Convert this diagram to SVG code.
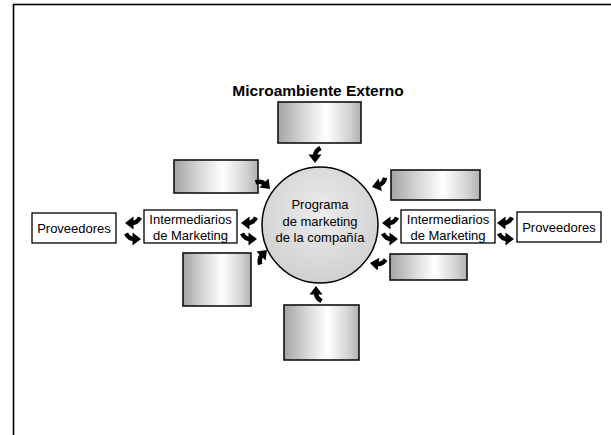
<svg xmlns="http://www.w3.org/2000/svg" xmlns:xlink="http://www.w3.org/1999/xlink" width="611" height="435" viewBox="0 0 611 435">
<style>
.t{font-family:"Liberation Sans",Arial,sans-serif;font-size:13px;fill:#000;text-anchor:middle}
.title{font-family:"Liberation Sans",Arial,sans-serif;font-size:15.5px;font-weight:bold;fill:#000;text-anchor:middle}
.wb{fill:#fff;stroke:#000;stroke-width:1.3}
.gb{fill:url(#gbox);stroke:#111;stroke-width:1.6}
</style>
<defs>
<linearGradient id="gbox" x1="0" y1="0" x2="1" y2="0">
<stop offset="0" stop-color="#a4a4a4"/>
<stop offset="0.3" stop-color="#d6d6d6"/>
<stop offset="0.58" stop-color="#ffffff"/>
<stop offset="0.85" stop-color="#d4d4d4"/>
<stop offset="1" stop-color="#b0b0b0"/>
</linearGradient>
<radialGradient id="gcirc" cx="0.5" cy="0.4" r="0.6">
<stop offset="0" stop-color="#ececec"/>
<stop offset="1" stop-color="#d0d0d0"/>
</radialGradient>
<g id="arr">
<polygon points="0,0 8.5,-6.5 8.5,6.5" fill="#000"/>
<path d="M7,0 Q12,0 15,-5.5" fill="none" stroke="#000" stroke-width="4.5"/>
</g>
</defs>
<rect x="13.5" y="4.5" width="700" height="500" fill="#fff" stroke="#000" stroke-width="1.6"/>
<text class="title" x="318" y="96">Microambiente Externo</text>

<g id="circle">
<circle cx="320" cy="225" r="58" fill="url(#gcirc)" stroke="#000" stroke-width="1.5"/>
<text class="t" x="320" y="209">Programa</text>
<text class="t" x="320" y="225.5">de marketing</text>
<text class="t" x="320" y="242">de la compañía</text>
</g>
<g id="box-top"><rect class="gb" x="278" y="102" width="83" height="41"/></g>
<g id="box-ul"><rect class="gb" x="174" y="160" width="84" height="33"/></g>
<g id="box-ur"><rect class="gb" x="391" y="170" width="89" height="30"/></g>
<g id="box-ll"><rect class="gb" x="183" y="253" width="68" height="53"/></g>
<g id="box-lr"><rect class="gb" x="390" y="254" width="77" height="26"/></g>
<g id="box-bottom"><rect class="gb" x="284" y="305" width="75" height="55"/></g>

<g id="prov-left">
<rect class="wb" x="32" y="213" width="84" height="30"/>
<text class="t" x="74" y="232.5">Proveedores</text>
</g>
<g id="inter-left">
<rect class="wb" x="144" y="210" width="93" height="33"/>
<text class="t" x="190.5" y="224">Intermediarios</text>
<text class="t" x="190.5" y="239.5">de Marketing</text>
</g>
<g id="inter-right">
<rect class="wb" x="401" y="210" width="94" height="33"/>
<text class="t" x="448" y="224">Intermediarios</text>
<text class="t" x="448" y="239.5">de Marketing</text>
</g>
<g id="prov-right">
<rect class="wb" x="517" y="212" width="84" height="30"/>
<text class="t" x="559" y="231.5">Proveedores</text>
</g>

<g id="connectors">
<use xlink:href="#arr" transform="translate(315,163) rotate(90) scale(-1,1)"/>
<use xlink:href="#arr" transform="translate(270,189) rotate(-135)"/>
<use xlink:href="#arr" transform="translate(372,187) rotate(-15)"/>
<use xlink:href="#arr" transform="translate(267,250) rotate(135)"/>
<use xlink:href="#arr" transform="translate(370,263) rotate(8)"/>
<use xlink:href="#arr" transform="translate(316,286) rotate(90)"/>
<use xlink:href="#arr" transform="translate(125,223)"/>
<use xlink:href="#arr" transform="translate(141,239) scale(-1,1)"/>
<use xlink:href="#arr" transform="translate(241,223)"/>
<use xlink:href="#arr" transform="translate(257,239) scale(-1,1)"/>
<use xlink:href="#arr" transform="translate(382,223)"/>
<use xlink:href="#arr" transform="translate(398,239) scale(-1,1)"/>
<use xlink:href="#arr" transform="translate(497,223)"/>
<use xlink:href="#arr" transform="translate(514,239) scale(-1,1)"/>
</g>
</svg>
